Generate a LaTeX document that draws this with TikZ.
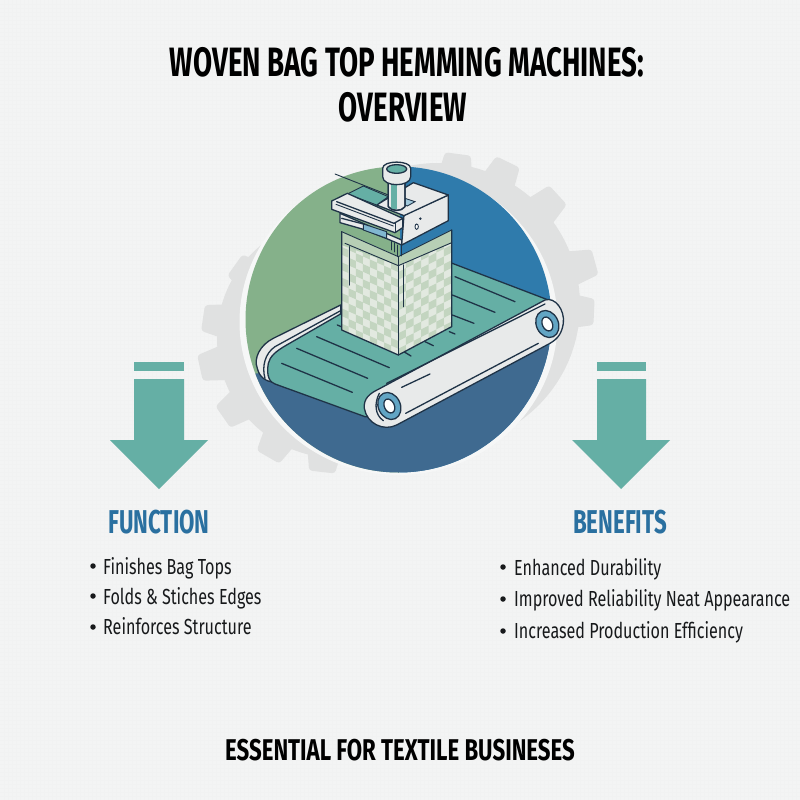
\documentclass[tikz,border=0pt]{standalone}
\usepackage{fontspec}
\setmainfont{Fira Sans}[FakeStretch=0.74]
\newfontfamily\titlefont{Fira Sans}[FakeStretch=0.675]
\definecolor{bgc}{HTML}{F3F4F4}
\definecolor{gridc}{HTML}{F1F2F2}
\definecolor{halo}{HTML}{F6F7F7}
\definecolor{gearc}{HTML}{E0E1E1}
\definecolor{grn}{HTML}{85B18A}
\definecolor{blu}{HTML}{2F7BAC}
\definecolor{dblu}{HTML}{3F6A90}
\definecolor{teal}{HTML}{65AFA5}
\definecolor{ink}{HTML}{1F3347}
\definecolor{panel}{HTML}{E8EAEA}
\definecolor{headc}{HTML}{2A70A0}
\definecolor{chkA}{HTML}{E2E9E0}
\definecolor{chkB}{HTML}{C3D5C0}
\definecolor{bandc}{HTML}{B7CFB5}
\definecolor{roll}{HTML}{62A5C4}
\definecolor{txt}{HTML}{17191B}
\tikzset{
  ln/.style={draw=ink,line width=1.3pt,line join=round,line cap=round},
  lnt/.style={draw=ink,line width=0.9pt,line cap=round},
  title/.style={font=\titlefont\bfseries\fontsize{41}{41}\selectfont,text=black,inner sep=0pt,anchor=base},
  footer/.style={font=\bfseries\fontsize{30}{30}\selectfont,text=black,inner sep=0pt,anchor=base},
  heading/.style={font=\titlefont\bfseries\fontsize{33}{33}\selectfont,text=headc,inner sep=0pt,anchor=base},
  item/.style={font=\fontsize{21.8}{21.8}\selectfont,text=txt,inner sep=0pt,anchor=base west},
  dot/.style={circle,fill=txt,inner sep=0pt,minimum size=5.5pt},
  arrowc/.style={fill=teal,draw=none}
}
\newcommand{\gtooth}[4]{% cx cy tx ty
  \pgfmathsetmacro\ga{atan2(#2-#4,#3-#1)}
  \begin{scope}[shift={(#3,#4)},rotate=\ga]
  \fill[gearc,rounded corners=3pt] (-32,-19) -- (0,-13) -- (0,13) -- (-32,19) -- cycle;
  \end{scope}
}
\begin{document}
\begin{tikzpicture}[x=1pt,y=-1pt]
\useasboundingbox (0,0) rectangle (800,800);
\fill[bgc] (0,0) rectangle (800,800);
\foreach \g in {4,8,...,796}{\draw[gridc,line width=0.5pt] (\g,0) -- (\g,800);\draw[gridc,line width=0.5pt] (0,\g) -- (800,\g);}
% gears
\fill[gearc] (438,305) circle[radius=142];
\fill[gearc] (337,338) circle[radius=120];
\foreach \tx/\ty in {458/154,508/162,558/195,595/262,594/312,567/363}{\gtooth{438}{305}{\tx}{\ty}}
\foreach \tx/\ty in {235/265,203/318,200/368,223/417,268/457,322/472}{\gtooth{337}{338}{\tx}{\ty}}
\fill[halo] (398.5,322) ellipse[x radius=159,y radius=153];
% disc
\begin{scope}
\clip (398.5,319.5) circle[radius=153];
\fill[grn] (240,160) rectangle (400,480);
\fill[blu] (400,160) rectangle (560,480);
\fill[dblu] (240,375) -- (560,345) -- (560,480) -- (240,480) -- cycle;
\end{scope}
% machine, coordinates in zoom units
\begin{scope}[x=0.33333pt,y=-0.33333pt,shift={(660,450)}]
% back rail
\path[ln,fill=panel] (362,465) -- (160,565) .. controls (120,585) and (100,625) .. (112,655)
  .. controls (118,680) and (135,695) .. (165,697) -- (300,600) -- (362,490) -- cycle;
% belt
\path[ln,fill=teal] (145,640) .. controls (150,620) and (165,605) .. (200,585) -- (365,490)
  -- (697,340) -- (985,450) -- (470,800) -- (435,800) -- (165,702) .. controls (150,697) and (138,680) .. (145,640) -- cycle;
\draw[ln] (135,685) .. controls (125,650) and (135,610) .. (165,590) -- (362,482);
\foreach \a/\b/\c/\d in {185/640/397/727,230/595/443/685,290/560/508/653,352/525/366/531,
  548/603/573/618,615/575/640/587,688/545/705/552,697/495/762/520,697/435/825/487,705/380/885/455}
  {\draw[ln] (\a,\b) -- (\c,\d);}
% side panel
\path[ln,fill=panel] (975,450) .. controls (1005,440) and (1035,480) .. (1030,520)
  .. controls (1025,550) and (1015,565) .. (990,580) -- (530,825)
  .. controls (490,845) and (440,820) .. (433,775) .. controls (430,745) and (450,730) .. (475,718) -- cycle;
\draw[ln] (545,712) -- (630,672);
\draw[ln] (557,790) -- (955,580);
\draw[ln] (500,700) -- (975,462) ;
% rollers
\foreach \x/\y/\r in {508/768/-20,982/522/-20}{
  \path[ln,fill=roll] (\x,\y) ellipse[x radius=33,y radius=42,rotate=\r+45];
  \path[ln,fill=white] (\x,\y) ellipse[x radius=15,y radius=22,rotate=\r+45];
}
\draw[ln] (478,730) .. controls (462,760) and (465,795) .. (490,812);
% box
\path[fill=chkA] (365,245) -- (535,320) -- (695,240) -- (695,530) -- (535,615) -- (365,540) -- cycle;
\begin{scope}
\clip (365,245) -- (535,320) -- (535,615) -- (365,540) -- cycle;
\foreach \i in {0,...,7}{\foreach \j in {0,...,13}{
  \pgfmathtruncatemacro\k{mod(\i+\j,2)}
  \ifnum\k=0
    \pgfmathsetmacro\xa{365+\i*21.25}\pgfmathsetmacro\xb{\xa+21.25}
    \pgfmathsetmacro\ya{245+\i*9.4+\j*23}\pgfmathsetmacro\yb{\ya+9.4}
    \fill[chkB] (\xa,\ya) -- (\xb,\yb) -- (\xb,\yb+23) -- (\xa,\ya+23) -- cycle;
  \fi
}}
\end{scope}
\begin{scope}
\clip (535,320) -- (695,240) -- (695,530) -- (535,615) -- cycle;
\foreach \i in {0,...,6}{\foreach \j in {0,...,15}{
  \pgfmathtruncatemacro\k{mod(\i+\j,2)}
  \ifnum\k=0
    \pgfmathsetmacro\xa{535+\i*22.8}\pgfmathsetmacro\xb{\xa+22.8}
    \pgfmathsetmacro\ya{320-\i*11.6+\j*23}\pgfmathsetmacro\yb{\ya-11.6}
    \fill[chkB] (\xa,\ya) -- (\xb,\yb) -- (\xb,\yb+23) -- (\xa,\ya+23) -- cycle;
  \fi
}}
\end{scope}
\fill[bandc] (365,245) -- (535,320) -- (695,240) -- (695,280) -- (535,347) -- (365,285) -- cycle;
\draw[lnt] (375,280) -- (535,347) -- (695,278);
\draw[ln] (388,290) -- (388,405);
\draw[ln] (550,345) -- (550,470);
\draw[ln] (365,245) -- (365,540) -- (535,615) -- (695,530) -- (695,240);
\draw[ln] (535,320) -- (535,615);
\draw[lnt] (365,245) -- (535,320) -- (695,240);
% head: needles and underside
\draw[lnt] (515,275) -- (515,300);\draw[lnt] (522,280) -- (522,306);\draw[lnt] (533,285) -- (533,320);\draw[lnt] (545,285) -- (545,318);
\path[ln,fill=panel] (360,190) -- (545,270) -- (545,285) -- (505,268) -- (430,238) -- (360,218) -- cycle;
\path[lnt,fill=roll!80!white] (430,222) -- (500,245) -- (500,265) -- (430,240) -- cycle;
\draw[ln] (365,205) -- (430,222);
% head block
\path[ln,fill=panel] (552,195) -- (685,135) -- (685,212) -- (545,285) -- cycle;
\path[ln,fill=panel] (470,165) -- (580,98) -- (685,135) -- (552,197) -- cycle;
\path[lnt,fill=teal] (382,132) -- (430,108) -- (505,140) -- (470,165) -- cycle;
\path[lnt,fill=roll!60!white] (555,145) -- (585,155) -- (562,168) -- (555,165) -- cycle;
\draw[ln,line width=0.9pt] (345,72) -- (505,135);
% arm bar
\path[ln,fill=panel] (335,153) -- (382,130) -- (548,205) -- (548,233) -- (525,248) -- (335,178) -- cycle;
\draw[ln] (350,155) -- (522,220);
\draw[lnt] (348,163) -- (520,228);
\draw[ln] (522,220) -- (548,205);
\draw[lnt] (525,220) -- (525,248);
% holes
\path[lnt,fill=white] (590,230) ellipse[x radius=5,y radius=8];
\fill[ink] (601,206) circle[radius=4];
% post
\path[ln,fill=panel] (505,95) -- (505,170) .. controls (515,185) and (545,185) .. (555,170) -- (555,95) -- cycle;
\fill[teal] (512,100) rectangle (532,178);
\draw[ln] (505,95) -- (505,170) .. controls (515,185) and (545,185) .. (555,170) -- (555,95);
\path[ln,fill=panel] (488,55) .. controls (488,30) and (572,30) .. (572,55) -- (572,80)
  .. controls (572,112) and (488,112) .. (488,80) -- cycle;
\path[ln,fill=teal] (530,57) ellipse[x radius=30,y radius=13];
\end{scope}
% arrows
\fill[arrowc] (134,362) rectangle (184,371);
\fill[arrowc] (134,379) -- (184,379) -- (184,440) -- (208,440) -- (159,489) -- (110,440) -- (134,440) -- cycle;
\fill[arrowc] (597,362) rectangle (646,371);
\fill[arrowc] (597,379) -- (646,379) -- (646,440) -- (670,440) -- (621,489) -- (572,440) -- (597,440) -- cycle;
% text
\node[title] (t1) at (407,77) {WOVEN BAG TOP HEMMING MACHINES:};
\node[title] (t2) at (403,121) {OVERVIEW};
\node[heading] (h1) at (159,533) {FUNCTION};
\node[heading] (h2) at (620,533) {BENEFITS};
\foreach \n/\y/\b/\s in {a/566/574/Finishes Bag Tops,b/596/604/Folds \& Stiches Edges,c/627/634/Reinforces Structure}{
  \node[dot] (d\n) at (93,\y) {};
  \node[item] (i\n) at (103,\b) {\s};
}
\foreach \n/\y/\b/\s in {d/567/575/Enhanced Durability,e/599/606/Improved Reliability Neat Appearance,f/631/638/Increased Production Efficiency}{
  \node[dot] (d\n) at (503,\y) {};
  \node[item] (i\n) at (514,\b) {\s};
}
\node[footer] (f) at (400,760) {ESSENTIAL FOR TEXTILE BUSINESES};
\end{tikzpicture}
\end{document}
